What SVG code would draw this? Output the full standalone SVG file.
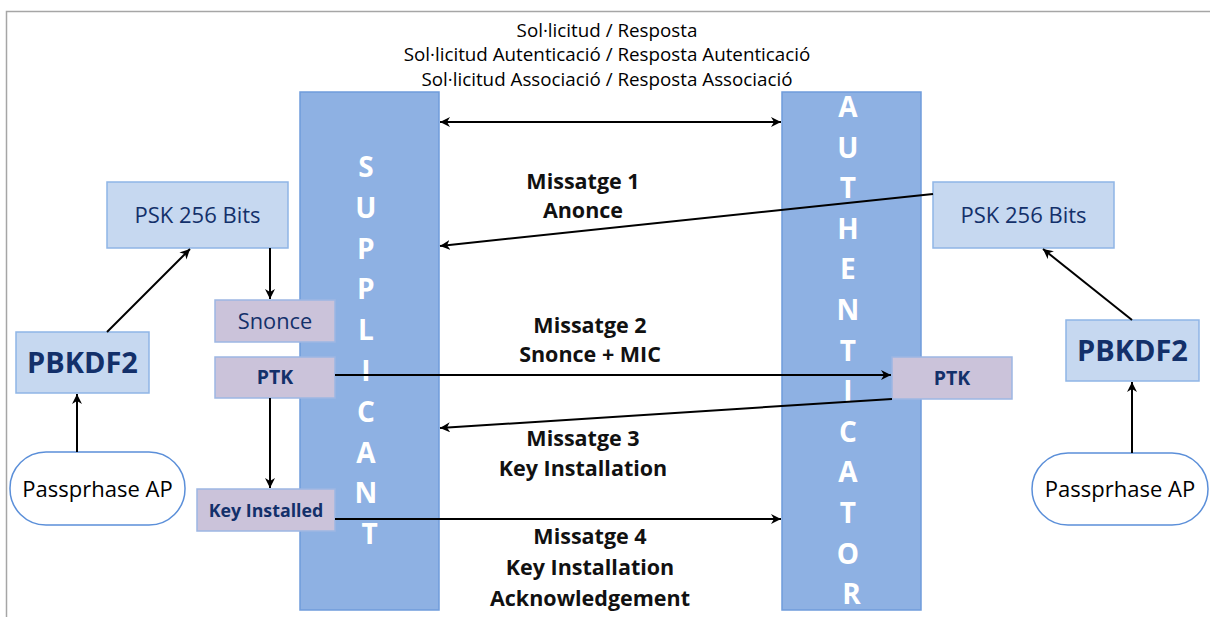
<svg xmlns="http://www.w3.org/2000/svg" width="1210" height="617" viewBox="0 0 1210 617">
  <defs>
    <marker id="arrow" viewBox="0 0 10 10" refX="10" refY="5" markerWidth="5" markerHeight="5" markerUnits="strokeWidth" orient="auto-start-reverse">
      <path d="M0,0 L10,5 L0,10 L3,5 z" fill="#000"/>
    </marker>
    <style>
      .col { fill: #8EB1E3; stroke: #6F9CDB; stroke-width: 1.5; }
      .colTxt { font-family: "Open Sans", sans-serif; font-weight: bold; font-size: 28px; fill: #fff; text-anchor: middle; }
      .psk { fill: #C6D8F0; stroke: #8FB5E6; stroke-width: 1.5; }
      .key { fill: #CBC3DA; stroke: #9DB7E3; stroke-width: 1.5; }
      .pass { fill: #fff; stroke: #5B8FD9; stroke-width: 1.5; }
      .navy { font-family: "Open Sans", sans-serif; fill: #13306A; text-anchor: middle; }
      .lbl { font-family: "Open Sans", sans-serif; fill: #000; text-anchor: middle; }
      .msg { font-family: "Open Sans", sans-serif; font-weight: bold; font-size: 21.5px; fill: #111; text-anchor: middle; }
      .conn line { stroke: #000; stroke-width: 2; fill: none; }
    </style>
  </defs>

  <rect width="1210" height="617" fill="#fff"/>
  <!-- page frame -->
  <path d="M6.5,617 V11.5 H1210" fill="none" stroke="#A6A6A6" stroke-width="1.5"/>

  <!-- top exchange labels -->
  <g id="top-labels">
    <text class="lbl" x="607" y="37" font-size="18.8">Sol·licitud / Resposta</text>
    <text class="lbl" x="607" y="61" font-size="18.8">Sol·licitud Autenticació / Resposta Autenticació</text>
    <text class="lbl" x="607" y="86" font-size="18.8">Sol·licitud Associació / Resposta Associació</text>
  </g>

  <!-- supplicant lane -->
  <g id="supplicant">
    <rect class="col" x="300" y="92" width="139" height="518"/>
    <text class="colTxt">
      <tspan x="369.5" y="177">S</tspan>
      <tspan x="369.5" y="217.8">U</tspan>
      <tspan x="369.5" y="258.6">P</tspan>
      <tspan x="369.5" y="299.4">P</tspan>
      <tspan x="369.5" y="340.2">L</tspan>
      <tspan x="369.5" y="381">I</tspan>
      <tspan x="369.5" y="421.8">C</tspan>
      <tspan x="369.5" y="462.6">A</tspan>
      <tspan x="369.5" y="503.4">N</tspan>
      <tspan x="369.5" y="544.2">T</tspan>
    </text>
  </g>

  <!-- authenticator lane -->
  <g id="authenticator">
    <rect class="col" x="782" y="92" width="139" height="518"/>
    <text class="colTxt">
      <tspan x="851.5" y="117">A</tspan>
      <tspan x="851.5" y="157.6">U</tspan>
      <tspan x="851.5" y="198.2">T</tspan>
      <tspan x="851.5" y="238.8">H</tspan>
      <tspan x="851.5" y="279.4">E</tspan>
      <tspan x="851.5" y="320">N</tspan>
      <tspan x="851.5" y="360.6">T</tspan>
      <tspan x="851.5" y="401.2">I</tspan>
      <tspan x="851.5" y="441.8">C</tspan>
      <tspan x="851.5" y="482.4">A</tspan>
      <tspan x="851.5" y="523">T</tspan>
      <tspan x="851.5" y="563.6">O</tspan>
      <tspan x="851.5" y="604.2">R</tspan>
    </text>
  </g>

  <!-- supplicant side -->
  <g id="psk-left">
    <rect class="psk" x="107" y="182" width="181" height="66"/>
    <text class="navy" x="197.5" y="223" font-size="22">PSK 256 Bits</text>
  </g>
  <g id="pbkdf2-left">
    <rect class="psk" x="16" y="332" width="133" height="61"/>
    <text class="navy" x="82.5" y="373" font-size="29" font-weight="bold">PBKDF2</text>
  </g>
  <g id="passphrase-left">
    <rect class="pass" x="10" y="452" width="175" height="73" rx="36" ry="36"/>
    <text class="lbl" x="97.5" y="497" font-size="22">Passprhase AP</text>
  </g>
  <g id="snonce">
    <rect class="key" x="215" y="300" width="120" height="42"/>
    <text class="navy" x="275" y="329" font-size="21.8">Snonce</text>
  </g>
  <g id="ptk-left">
    <rect class="key" x="215" y="357" width="120" height="41"/>
    <text class="navy" x="275" y="384" font-size="19.5" font-weight="bold">PTK</text>
  </g>
  <g id="key-installed">
    <rect class="key" x="197" y="489" width="138" height="42"/>
    <text class="navy" x="266" y="517" font-size="17.8" font-weight="bold">Key Installed</text>
  </g>

  <!-- authenticator side -->
  <g id="psk-right">
    <rect class="psk" x="933" y="182" width="181" height="66"/>
    <text class="navy" x="1023.5" y="223" font-size="22">PSK 256 Bits</text>
  </g>
  <g id="pbkdf2-right">
    <rect class="psk" x="1066" y="320" width="133" height="61"/>
    <text class="navy" x="1132.5" y="361" font-size="29" font-weight="bold">PBKDF2</text>
  </g>
  <g id="passphrase-right">
    <rect class="pass" x="1032" y="453" width="176" height="72" rx="36" ry="36"/>
    <text class="lbl" x="1120" y="497" font-size="22">Passprhase AP</text>
  </g>
  <g id="ptk-right">
    <rect class="key" x="892" y="357" width="120" height="42"/>
    <text class="navy" x="952" y="385" font-size="19.5" font-weight="bold">PTK</text>
  </g>

  <!-- message labels -->
  <g id="messages">
    <text class="msg" x="583" y="189">Missatge 1</text>
    <text class="msg" x="583" y="218">Anonce</text>
    <text class="msg" x="590" y="333">Missatge 2</text>
    <text class="msg" x="590" y="362">Snonce + MIC</text>
    <text class="msg" x="583" y="446">Missatge 3</text>
    <text class="msg" x="583" y="476">Key Installation</text>
    <text class="msg" x="590" y="544">Missatge 4</text>
    <text class="msg" x="590" y="575">Key Installation</text>
    <text class="msg" x="590" y="606">Acknowledgement</text>
  </g>

  <!-- connectors -->
  <g id="connectors" class="conn">
    <line x1="440" y1="122" x2="781" y2="122" marker-start="url(#arrow)" marker-end="url(#arrow)"/>
    <line x1="933" y1="194" x2="440" y2="246" marker-end="url(#arrow)"/>
    <line x1="335" y1="375" x2="891" y2="375" marker-end="url(#arrow)"/>
    <line x1="892" y1="399" x2="440" y2="428" marker-end="url(#arrow)"/>
    <line x1="335" y1="519" x2="781" y2="519" marker-end="url(#arrow)"/>
    <line x1="270" y1="248" x2="270" y2="299" marker-end="url(#arrow)"/>
    <line x1="270" y1="398" x2="270" y2="488" marker-end="url(#arrow)"/>
    <line x1="107" y1="332" x2="190" y2="249" marker-end="url(#arrow)"/>
    <line x1="77" y1="452" x2="77" y2="394" marker-end="url(#arrow)"/>
    <line x1="1132" y1="453" x2="1132" y2="382" marker-end="url(#arrow)"/>
    <line x1="1132" y1="320" x2="1043" y2="249" marker-end="url(#arrow)"/>
  </g>
</svg>
